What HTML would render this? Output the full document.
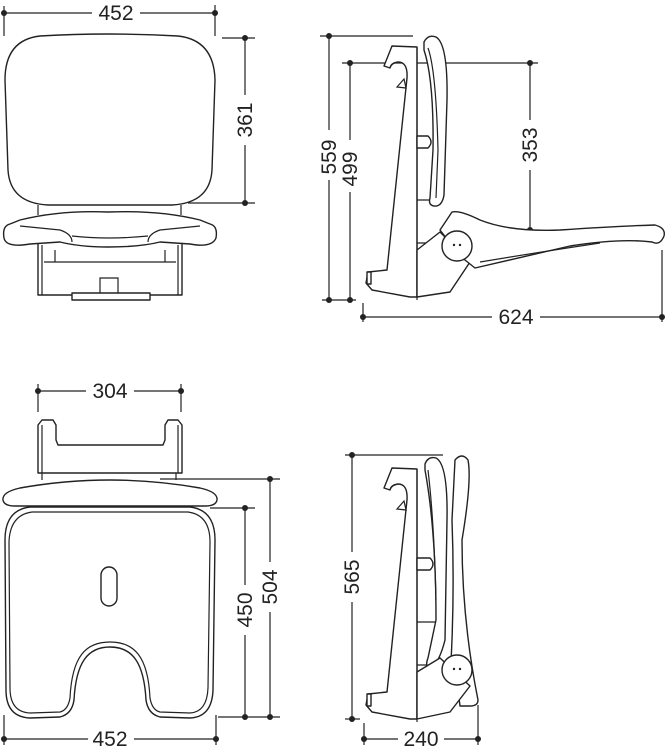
<!DOCTYPE html>
<html><head><meta charset="utf-8"><style>
html,body{margin:0;padding:0;background:#fff;}
svg{display:block;}
text{font-family:"Liberation Sans",Arial,sans-serif;font-size:21px;fill:#222;}
.s{fill:#fff;stroke:#222;stroke-width:1.4;stroke-linejoin:round;}
.l{fill:none;stroke:#222;stroke-width:1.2;}
.d{fill:#222;}
</style></head><body>
<svg width="665" height="750" viewBox="0 0 665 750" xmlns="http://www.w3.org/2000/svg">
<!-- ===== Top-left: front view ===== -->
<line class="l" x1="4" y1="13" x2="92" y2="13"/><line class="l" x1="140" y1="13" x2="215" y2="13"/>
<line class="l" x1="4" y1="6" x2="4" y2="36"/><line class="l" x1="215" y1="5" x2="215" y2="36"/>
<circle class="d" cx="4" cy="13" r="3"/><circle class="d" cx="215" cy="13" r="3"/>
<text x="116" y="20" text-anchor="middle">452</text>
<line class="l" x1="222" y1="38" x2="255" y2="38"/><line class="l" x1="188" y1="203" x2="255" y2="203"/>
<line class="l" x1="245" y1="38" x2="245" y2="95"/><line class="l" x1="245" y1="145" x2="245" y2="203"/>
<circle class="d" cx="245" cy="38" r="3"/><circle class="d" cx="245" cy="203" r="3"/>
<text transform="translate(252,120) rotate(-90)" text-anchor="middle">361</text>
<rect class="s" x="38" y="240" width="144" height="55"/>
<rect class="s" x="72" y="293" width="78" height="7"/>
<path class="l" d="M44 262 H176 M100 293 V278 H118 V293 M42 245 V295 M178 245 V295 M55 250 V262 M165 250 V262"/>
<path class="l" d="M38 205 V215 M181 205 V215"/>
<path class="s" d="M40 36 Q108 32 178 36 Q214 40 215 80 L212 170 Q210 203 172 205 L48 205 Q10 203 8 170 L5 80 Q5 40 40 36 Z"/>
<path class="s" d="M20 220 Q60 210 108 212 Q160 210 200 220 L210 224 Q218 226 216 238 Q212 248 190 244 L160 242 Q140 247 108 247 Q80 247 60 242 L30 244 Q6 248 4 238 Q2 226 10 224 Z"/>
<path class="l" d="M20 226 Q40 228 60 230 Q72 234 72 242 M200 226 Q180 228 160 230 Q148 234 148 242 M72 236 Q108 240 148 236"/>
<!-- ===== Top-right: side view ===== -->
<line class="l" x1="320" y1="36" x2="413" y2="36"/>
<line class="l" x1="342" y1="63" x2="538" y2="63"/>
<line class="l" x1="322" y1="300" x2="356" y2="300"/>
<line class="l" x1="329" y1="36" x2="329" y2="130"/><line class="l" x1="329" y1="180" x2="329" y2="300"/>
<line class="l" x1="350" y1="63" x2="350" y2="140"/><line class="l" x1="350" y1="192" x2="350" y2="300"/>
<circle class="d" cx="329" cy="36" r="3"/><circle class="d" cx="329" cy="300" r="3"/>
<circle class="d" cx="350" cy="63" r="3"/><circle class="d" cx="350" cy="300" r="3"/>
<text transform="translate(336,157) rotate(-90)" text-anchor="middle">559</text>
<text transform="translate(357,169) rotate(-90)" text-anchor="middle">499</text>
<line class="l" x1="530" y1="63" x2="530" y2="120"/><line class="l" x1="530" y1="170" x2="530" y2="230"/>
<circle class="d" cx="530" cy="63" r="3"/><circle class="d" cx="530" cy="230" r="3"/>
<text transform="translate(537,145) rotate(-90)" text-anchor="middle">353</text>
<line class="l" x1="363" y1="317" x2="492" y2="317"/><line class="l" x1="540" y1="317" x2="662" y2="317"/>
<line class="l" x1="363" y1="303" x2="363" y2="322"/><line class="l" x1="662" y1="250" x2="662" y2="322"/>
<circle class="d" cx="363" cy="317" r="3"/><circle class="d" cx="662" cy="317" r="3"/>
<text x="516" y="324" text-anchor="middle">624</text>
<g id="brk">
<path class="s" d="M384 66 L392 46 L417 47 L417 297 L410 297 L372 290 L366 283 L368 272 L387 270 L407 78 Q408 62 398 62 Q391 63 390 68 Z"/>
<path class="l" d="M397 87 L404 79 L406 88 Z"/>
<line class="l" x1="417" y1="47" x2="417" y2="300"/>
<rect class="s" x="367" y="272" width="4" height="12"/>
</g>
<path class="s" d="M417 136 H428 Q434 142 428 148 H417 Z"/>
<path class="l" d="M417 200 H434 M417 243 H440"/>
<path class="s" d="M424 42 Q428 34 436 37 Q448 44 447 100 L444 195 Q442 207 434 206 Q428 205 430 198 L433 150 Q434 80 424 50 Z"/>
<path class="l" d="M428 48 Q436 70 438 150 L436 198"/>
<path class="s" d="M440 232 L470 262 L450 292 L417 297 L417 250 Z"/>
<path class="s" d="M440 230 L452 212 Q460 210 480 220 Q510 232 560 230 Q620 226 655 225 Q666 228 664 236 Q660 246 652 242 Q620 238 570 246 L475 268 L460 256 Z"/>
<path class="l" d="M480 262 Q540 252 600 243"/>
<circle class="s" cx="457" cy="246" r="15"/>
<circle class="d" cx="454" cy="245" r="1.2"/><circle class="d" cx="460" cy="245" r="1.2"/>
<!-- ===== Bottom-left: top view ===== -->
<line class="l" x1="38" y1="391" x2="86" y2="391"/><line class="l" x1="134" y1="391" x2="181" y2="391"/>
<line class="l" x1="38" y1="384" x2="38" y2="412"/><line class="l" x1="181" y1="384" x2="181" y2="412"/>
<circle class="d" cx="38" cy="391" r="3"/><circle class="d" cx="181" cy="391" r="3"/>
<text x="110" y="398" text-anchor="middle">304</text>
<path class="s" d="M38 425 L42 420 L53 420 L56 425 L56 440 L58 445 L163 445 L165 440 L165 425 L168 420 L178 420 L182 425 L182 473 L38 473 Z"/>
<path class="l" d="M42 425 V473 M178 425 V473 M42 473 V480 M176 473 V480"/>
<path class="s" d="M20 488 Q110 472 200 488 Q218 492 217 500 Q216 506 205 506 L15 506 Q4 506 3 500 Q2 492 20 488 Z"/>
<path class="s" d="M30 507 L190 507 Q215 510 215 540 L213 690 Q212 717 190 718 L160 717 Q148 714 146 700 C144 662 132 647 110 647 C88 647 76 662 74 700 Q72 714 60 717 L30 718 Q6 717 6 690 L5 540 Q5 510 30 507 Z"/>
<path class="l" d="M32 512 L188 512 Q210 515 210 542 L208 688 Q207 712 190 713 L160 712 Q152 710 150 698 C148 656 134 642 110 642 C86 642 72 656 70 698 Q68 710 60 712 L30 713 Q10 712 10 688 L9 542 Q10 515 32 512 Z"/>
<rect class="s" x="101" y="567" width="16" height="39" rx="8"/>
<line class="l" x1="160" y1="479" x2="280" y2="479"/><line class="l" x1="210" y1="508" x2="255" y2="508"/><line class="l" x1="218" y1="717" x2="280" y2="717"/>
<line class="l" x1="245" y1="508" x2="245" y2="585"/><line class="l" x1="245" y1="635" x2="245" y2="717"/>
<line class="l" x1="270" y1="479" x2="270" y2="562"/><line class="l" x1="270" y1="612" x2="270" y2="717"/>
<circle class="d" cx="245" cy="508" r="3"/><circle class="d" cx="245" cy="717" r="3"/>
<circle class="d" cx="270" cy="479" r="3"/><circle class="d" cx="270" cy="717" r="3"/>
<text transform="translate(252,610) rotate(-90)" text-anchor="middle">450</text>
<text transform="translate(277,587) rotate(-90)" text-anchor="middle">504</text>
<line class="l" x1="4" y1="739" x2="88" y2="739"/><line class="l" x1="134" y1="739" x2="216" y2="739"/>
<line class="l" x1="4" y1="715" x2="4" y2="745"/><line class="l" x1="216" y1="715" x2="216" y2="745"/>
<circle class="d" cx="4" cy="739" r="3"/><circle class="d" cx="216" cy="739" r="3"/>
<text x="110" y="746" text-anchor="middle">452</text>
<!-- ===== Bottom-right: folded side view ===== -->
<line class="l" x1="345" y1="455" x2="443" y2="455"/><line class="l" x1="345" y1="719" x2="360" y2="719"/>
<line class="l" x1="352" y1="455" x2="352" y2="552"/><line class="l" x1="352" y1="602" x2="352" y2="719"/>
<circle class="d" cx="352" cy="455" r="3"/><circle class="d" cx="352" cy="719" r="3"/>
<text transform="translate(359,577) rotate(-90)" text-anchor="middle">565</text>
<line class="l" x1="364" y1="739" x2="398" y2="739"/><line class="l" x1="444" y1="739" x2="478" y2="739"/>
<line class="l" x1="364" y1="723" x2="364" y2="745"/><line class="l" x1="478" y1="705" x2="478" y2="745"/>
<circle class="d" cx="364" cy="739" r="3"/><circle class="d" cx="478" cy="739" r="3"/>
<text x="421" y="746" text-anchor="middle">240</text>
<g transform="translate(0,422)">
<path class="s" d="M384 66 L392 46 L417 47 L417 297 L410 297 L372 290 L366 283 L368 272 L387 270 L407 78 Q408 62 398 62 Q391 63 390 68 Z"/>
<path class="l" d="M397 87 L404 79 L406 88 Z"/>
<line class="l" x1="417" y1="47" x2="417" y2="300"/>
<rect class="s" x="367" y="272" width="4" height="12"/>
</g>
<path class="s" d="M417 558 H430 Q436 564 430 570 H417 Z"/>
<path class="l" d="M417 622 H436 M417 665 H440"/>
<path class="s" d="M455 460 Q462 452 468 460 Q472 480 462 540 Q462 620 478 700 Q478 706 470 706 L460 706 L458 690 L450 680 Q455 600 452 520 Z"/>
<path class="s" d="M425 464 Q428 456 436 458 Q448 464 447 520 L445 640 Q440 660 432 668 Q424 668 428 658 L436 620 Q436 530 425 470 Z"/>
<path class="l" d="M428 470 Q434 520 436 600"/>
<path class="s" d="M440 658 L470 686 L450 712 L417 719 L417 672 Z"/>
<circle class="s" cx="457" cy="670" r="15"/>
<circle class="d" cx="454" cy="669" r="1.2"/><circle class="d" cx="460" cy="669" r="1.2"/>
</svg>
</body></html>
